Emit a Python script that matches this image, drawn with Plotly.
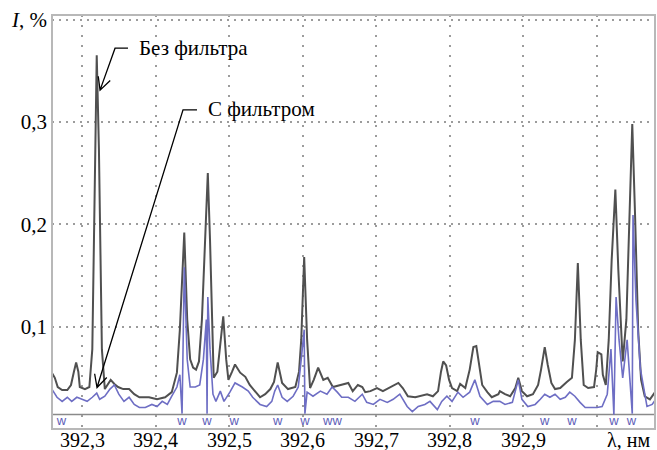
import math
import plotly.graph_objects as go

# Spectrum without the filter (wavelength, nm / intensity, %)
lam_raw = [
    392.259, 392.263, 392.267, 392.273, 392.280, 392.285, 392.289, 392.292, 392.295, 392.297,
    392.304, 392.310, 392.314, 392.318, 392.320, 392.323, 392.327, 392.331, 392.335, 392.339,
    392.344, 392.349, 392.356, 392.364, 392.371, 392.378, 392.391, 392.402, 392.413, 392.422,
    392.429, 392.433, 392.439, 392.443, 392.447, 392.451, 392.455, 392.459, 392.463, 392.467,
    392.471, 392.474, 392.477, 392.479, 392.484, 392.488, 392.492, 392.496, 392.499, 392.504,
    392.508, 392.515, 392.522, 392.528, 392.535, 392.542, 392.549, 392.556, 392.561, 392.566,
    392.572, 392.580, 392.590, 392.595, 392.598, 392.602, 392.606, 392.610, 392.615, 392.621,
    392.628, 392.634, 392.641, 392.651, 392.662, 392.668, 392.675, 392.681, 392.685, 392.692,
    392.701, 392.709, 392.719, 392.730, 392.736, 392.743, 392.753, 392.759, 392.769, 392.777,
    392.784, 392.788, 392.791, 392.795, 392.799, 392.803, 392.810, 392.814, 392.821, 392.827,
    392.832, 392.836, 392.840, 392.844, 392.851, 392.857, 392.866, 392.868, 392.875, 392.882,
    392.889, 392.893, 392.898, 392.905, 392.913, 392.920, 392.924, 392.929, 392.933, 392.938,
    392.943, 392.950, 392.959, 392.966, 392.970, 392.974, 392.978, 392.982, 392.988, 392.996,
    392.999, 393.001, 393.006, 393.008, 393.012, 393.016, 393.020, 393.025, 393.029, 393.033,
    393.035, 393.040, 393.044, 393.048, 393.052, 393.056, 393.060, 393.065, 393.072, 393.079,
]
int_raw = [
    0.055, 0.050, 0.041, 0.038, 0.038, 0.043, 0.056, 0.065, 0.056, 0.041,
    0.039, 0.041, 0.078, 0.273, 0.365, 0.273, 0.078, 0.039, 0.043, 0.048,
    0.044, 0.041, 0.039, 0.039, 0.034, 0.031, 0.031, 0.029, 0.031, 0.036,
    0.055, 0.097, 0.192, 0.107, 0.068, 0.060, 0.058, 0.066, 0.107, 0.185,
    0.250, 0.185, 0.087, 0.050, 0.056, 0.082, 0.110, 0.068, 0.048, 0.056,
    0.063, 0.055, 0.051, 0.043, 0.037, 0.031, 0.034, 0.039, 0.046, 0.065,
    0.045, 0.039, 0.041, 0.056, 0.087, 0.168, 0.087, 0.040, 0.048, 0.060,
    0.048, 0.050, 0.041, 0.043, 0.045, 0.037, 0.043, 0.041, 0.036, 0.037,
    0.040, 0.037, 0.041, 0.045, 0.040, 0.032, 0.031, 0.032, 0.034, 0.032,
    0.037, 0.056, 0.066, 0.062, 0.048, 0.040, 0.037, 0.044, 0.040, 0.058,
    0.080, 0.081, 0.063, 0.043, 0.036, 0.031, 0.034, 0.037, 0.034, 0.032,
    0.040, 0.050, 0.037, 0.032, 0.034, 0.043, 0.058, 0.080, 0.063, 0.045,
    0.039, 0.040, 0.046, 0.050, 0.087, 0.162, 0.087, 0.043, 0.040, 0.041,
    0.058, 0.075, 0.073, 0.053, 0.043, 0.087, 0.165, 0.234, 0.156, 0.087,
    0.066, 0.107, 0.204, 0.298, 0.204, 0.097, 0.048, 0.032, 0.029, 0.036,
]

# Spectrum with the filter
lam_filt = [
    392.259, 392.266, 392.273, 392.280, 392.286, 392.293, 392.300, 392.307, 392.314, 392.320,
    392.324, 392.331, 392.338, 392.344, 392.350, 392.357, 392.364, 392.371, 392.378, 392.386,
    392.395, 392.402, 392.409, 392.416, 392.422, 392.429, 392.433, 392.436, 392.439, 392.443,
    392.447, 392.454, 392.460, 392.465, 392.469, 392.470, 392.471, 392.474, 392.478, 392.482,
    392.488, 392.493, 392.501, 392.508, 392.518, 392.526, 392.532, 392.542, 392.551, 392.558,
    392.562, 392.566, 392.572, 392.579, 392.587, 392.594, 392.598, 392.602, 392.603, 392.606,
    392.614, 392.624, 392.633, 392.640, 392.647, 392.653, 392.662, 392.671, 392.681, 392.687,
    392.696, 392.705, 392.715, 392.723, 392.732, 392.742, 392.749, 392.757, 392.766, 392.773,
    392.783, 392.789, 392.796, 392.803, 392.811, 392.818, 392.827, 392.834, 392.841, 392.851,
    392.859, 392.868, 392.875, 392.885, 392.893, 392.898, 392.906, 392.916, 392.923, 392.929,
    392.936, 392.943, 392.950, 392.957, 392.963, 392.970, 392.977, 392.984, 392.993, 393.000,
    393.007, 393.014, 393.019, 393.023, 393.026, 393.030, 393.035, 393.041, 393.048, 393.049,
    393.053, 393.059, 393.068, 393.075, 393.080,
]
int_filt = [
    0.039, 0.031, 0.027, 0.031, 0.027, 0.031, 0.029, 0.027, 0.031, 0.035,
    0.029, 0.032, 0.039, 0.043, 0.034, 0.027, 0.031, 0.024, 0.021, 0.021,
    0.024, 0.022, 0.027, 0.024, 0.032, 0.041, 0.053, 0.015, 0.158, 0.068,
    0.041, 0.041, 0.043, 0.068, 0.107, 0.015, 0.129, 0.078, 0.034, 0.027,
    0.037, 0.027, 0.036, 0.045, 0.041, 0.037, 0.031, 0.024, 0.022, 0.027,
    0.037, 0.043, 0.031, 0.027, 0.032, 0.041, 0.068, 0.097, 0.015, 0.036,
    0.032, 0.037, 0.034, 0.041, 0.036, 0.031, 0.031, 0.027, 0.034, 0.026,
    0.024, 0.029, 0.026, 0.029, 0.034, 0.022, 0.017, 0.022, 0.024, 0.027,
    0.019, 0.027, 0.032, 0.027, 0.036, 0.031, 0.036, 0.048, 0.032, 0.024,
    0.027, 0.027, 0.024, 0.026, 0.048, 0.029, 0.022, 0.024, 0.029, 0.034,
    0.031, 0.034, 0.029, 0.031, 0.036, 0.032, 0.026, 0.021, 0.021, 0.021,
    0.022, 0.034, 0.078, 0.014, 0.129, 0.087, 0.050, 0.087, 0.015, 0.209,
    0.126, 0.059, 0.022, 0.024, 0.029,
]

# Marked lines ("w") along the bottom strip
w_lines = [392.272, 392.436, 392.470, 392.507, 392.566, 392.603, 392.636, 392.645,
           392.834, 392.929, 392.966, 393.023, 393.047]

x_ticks = [392.3, 392.4, 392.5, 392.6, 392.7, 392.8, 392.9, 393.0]
x_ticktext = ["392,3", "392,4", "392,5", "392,6", "392,7", "392,8", "392,9", ""]
x_unit = "λ, нм"
y_ticks = [0.1, 0.2, 0.3, 0.4]
y_ticktext = ["0,1", "0,2", "0,3", "<i>I</i>, %"]

SERIF = "Liberation Serif, Times New Roman, serif"
GRAY = "#505050"
BLUE = "#6e6ec4"
X_RANGE = [392.2592, 393.0789]
Y_RANGE = [0.0, 0.4044]
STRIP_TOP = 0.0141

W, H = 657, 450
M = dict(l=52, r=2, t=15, b=21)
PW, PH = W - M["l"] - M["r"], H - M["t"] - M["b"]


def to_px(lam, val):
    px = M["l"] + (lam - X_RANGE[0]) / (X_RANGE[1] - X_RANGE[0]) * PW
    py = M["t"] + PH - (val - Y_RANGE[0]) / (Y_RANGE[1] - Y_RANGE[0]) * PH
    return px, py


def to_data(px, py):
    lam = X_RANGE[0] + (px - M["l"]) / PW * (X_RANGE[1] - X_RANGE[0])
    val = Y_RANGE[0] + (M["t"] + PH - py) / PH * (Y_RANGE[1] - Y_RANGE[0])
    return lam, val


def leader(text_pt, elbow, tip, length=14.0, spread=27.0):
    """Leader line: short horizontal stub, slanted shaft, open V arrowhead."""
    tx, ty = to_px(*tip)
    ex, ey = to_px(*elbow)
    dx, dy = ex - tx, ey - ty
    n = math.hypot(dx, dy)
    ux, uy = dx / n, dy / n
    arms = []
    for sgn in (1, -1):
        a = math.radians(spread) * sgn
        rx = ux * math.cos(a) - uy * math.sin(a)
        ry = ux * math.sin(a) + uy * math.cos(a)
        arms.append(to_data(tx + rx * length, ty + ry * length))
    path = (f"M {text_pt[0]},{text_pt[1]} L {elbow[0]},{elbow[1]} L {tip[0]},{tip[1]} "
            f"M {arms[0][0]},{arms[0][1]} L {tip[0]},{tip[1]} L {arms[1][0]},{arms[1][1]}")
    return dict(type="path", xref="x", yref="y", path=path,
                line=dict(color="black", width=1.3))


# Neighbouring "w" marks that sit closer than a glyph width share one label
w_groups = []
for lam in w_lines:
    if w_groups and lam - w_groups[-1][-1] < 0.012:
        w_groups[-1].append(lam)
    else:
        w_groups.append([lam])
w_x = [sum(g) / len(g) for g in w_groups]
w_text = ["w" * len(g) for g in w_groups]

fig = go.Figure()

fig.add_trace(go.Scatter(x=lam_raw, y=int_raw, mode="lines",
                         line=dict(color=GRAY, width=2), hoverinfo="skip"))
fig.add_trace(go.Scatter(x=lam_filt, y=int_filt, mode="lines",
                         line=dict(color=BLUE, width=1.6), hoverinfo="skip"))
fig.add_trace(go.Scatter(x=w_x, y=[0.0066] * len(w_x), mode="text", text=w_text,
                         textfont=dict(family="Liberation Sans", size=13, color="#5e5eb8"),
                         hoverinfo="skip"))

shapes = [
    # lower strip boundary
    dict(type="line", xref="paper", yref="y", x0=0, x1=1, y0=STRIP_TOP, y1=STRIP_TOP,
         line=dict(color="#8a8a8a", width=1.6), layer="below"),
    # frame
    dict(type="rect", xref="paper", yref="paper", x0=0, x1=1, y0=0, y1=1,
         line=dict(color="#b8b8b8", width=2)),
    leader((392.3625, 0.372), (392.3449, 0.372), (392.3245, 0.331)),
    leader((392.4563, 0.3117), (392.4373, 0.3117), (392.3204, 0.0405)),
]

annotations = [
    dict(x=392.3748, y=0.372, xref="x", yref="y", text="Без фильтра", showarrow=False,
         xanchor="left", yanchor="middle", font=dict(family=SERIF, size=21, color="black")),
    dict(x=392.4685, y=0.3127, xref="x", yref="y", text="С фильтром", showarrow=False,
         xanchor="left", yanchor="middle", font=dict(family=SERIF, size=21, color="black")),
]

# x tick labels sit tight against the lower edge, so they are placed as annotations
for val, txt in zip(x_ticks, x_ticktext):
    if txt:
        annotations.append(dict(x=val, y=0, xref="x", yref="paper", yanchor="top",
                                yshift=1.5, borderpad=0, text=txt, showarrow=False,
                                font=dict(family=SERIF, size=20, color="black")))
annotations.append(dict(x=393.0422, y=0, xref="x", yref="paper", yanchor="top",
                        yshift=1.5, borderpad=0, text=x_unit, showarrow=False,
                        font=dict(family=SERIF, size=20, color="black")))

fig.update_layout(
    width=W, height=H,
    margin=M,
    paper_bgcolor="white", plot_bgcolor="white",
    showlegend=False,
    font=dict(family=SERIF, size=21, color="black"),
    shapes=shapes, annotations=annotations,
    xaxis=dict(range=X_RANGE, tickvals=x_ticks, showticklabels=False, automargin=False,
               showgrid=True, gridcolor="#9c9c9c", gridwidth=2, griddash="2px,8px",
               zeroline=False, showline=False, ticks=""),
    yaxis=dict(range=Y_RANGE, tickvals=y_ticks, ticktext=y_ticktext, automargin=False,
               showgrid=True, gridcolor="#9c9c9c", gridwidth=2, griddash="2px,5px",
               zeroline=False, showline=False, ticks="", ticklabelstandoff=4,
               tickfont=dict(family=SERIF, size=21)),
)

fig.write_html("out.html")
